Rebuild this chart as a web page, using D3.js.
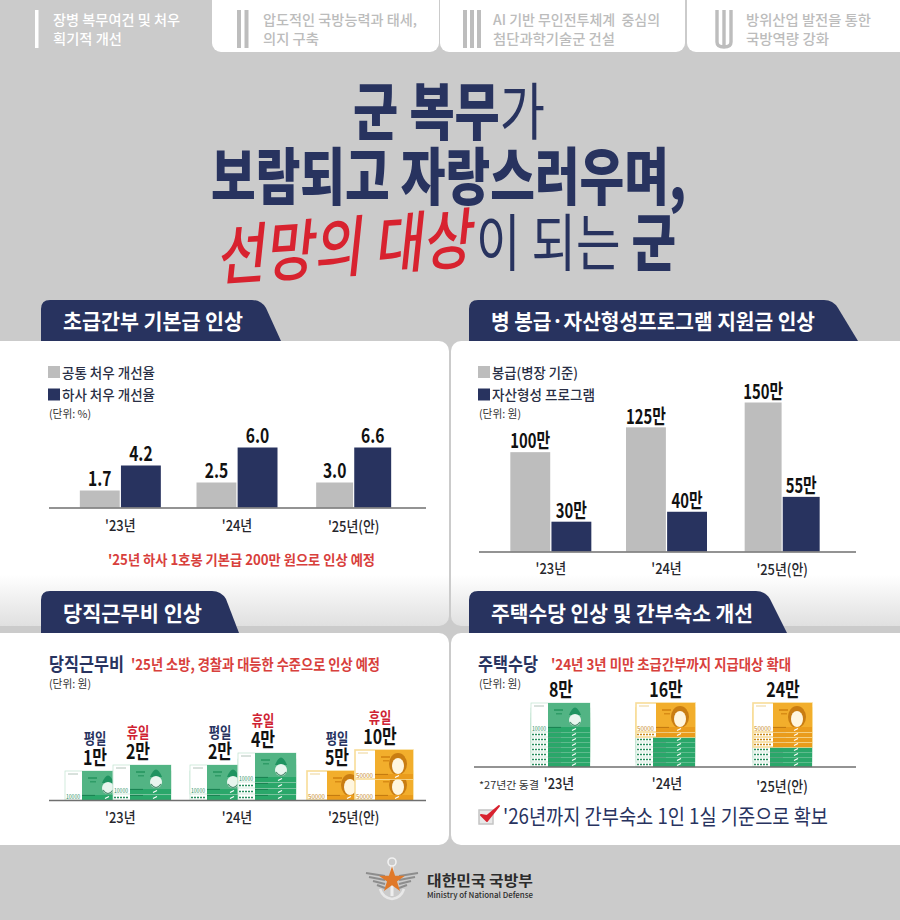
<!DOCTYPE html>
<html>
<head>
<meta charset="utf-8">
<script src="https://cdn.jsdelivr.net/npm/d3@7"></script>
<style>
html, body { margin: 0; padding: 0; background: #cbcbcb; }
svg { display: block; }
text { font-family: "Noto Sans CJK KR", "Noto Sans", sans-serif; }
</style>
</head>
<body>
<div id="chart"></div>
<script>
// data
var years = ["'23년", "'24년", "'25년(안)"];

// bar heights as drawn in the picture (the '25 bars of the first chart are drawn lower than their labels)
var commonRate = [1.7, 2.5, 2.5];
var sergeantRate = [4.2, 6.0, 6.0];
var commonRateLabels = ["1.7", "2.5", "3.0"];
var sergeantRateLabels = ["4.2", "6.0", "6.6"];

var payValues = [100, 125, 150];
var assetValues = [30, 40, 55];

// duty pay, number of notes of each kind
var weekdayTens = [1, 2, 0];
var weekdayFifties = [0, 0, 1];
var holidayTens = [2, 4, 0];
var holidayFifties = [0, 0, 2];
var weekdayLabels = ["1만", "2만", "5만"];
var holidayLabels = ["2만", "4만", "10만"];

// housing allowance, number of notes of each kind
var housingTens = [8, 6, 4];
var housingFifties = [0, 2, 4];
var housingLabels = ["8만", "16만", "24만"];

var tabs = [
  ["장병 복무여건 및 처우", "획기적 개선"],
  ["압도적인 국방능력과 태세,", "의지 구축"],
  ["AI 기반 무인전투체계  중심의", "첨단과학기술군 건설"],
  ["방위산업 발전을 통한", "국방역량 강화"]
];

var navy = "#28335f", gray = "#bdbdbd", red = "#d8403c", bg = "#cbcbcb";

var svg = d3.select("#chart").append("svg").attr("width", 900).attr("height", 920);
svg.append("rect").attr("width", 900).attr("height", 920).attr("fill", bg);

var defs = svg.append("defs");
var fade = defs.append("linearGradient").attr("id", "fade").attr("x1", 0).attr("x2", 0).attr("y1", 0).attr("y2", 1);
fade.append("stop").attr("offset", "0.82").attr("stop-color", "#ffffff");
fade.append("stop").attr("offset", "1").attr("stop-color", "#e0e0e0");

// y is the vertical middle of the text, sx narrows it, w forces a width
function txt(g, x, y, s, o) {
  o = o || {};
  var size = o.size || 14;
  var t = g.append("text")
    .attr("x", x)
    .attr("y", y + size * 0.36)
    .attr("font-size", size)
    .attr("font-weight", o.weight || 500)
    .attr("fill", o.fill || "#222")
    .attr("text-anchor", o.anchor || "start")
    .attr("xml:space", "preserve");
  if (Array.isArray(s)) {
    // parts of one line in different weights
    s.forEach(function(p) { t.append("tspan").attr("font-weight", p[1]).text(p[0]); });
  } else {
    t.text(s);
  }
  var w = o.w || (o.sx ? t.node().getComputedTextLength() * o.sx : 0);
  if (w) t.attr("textLength", w).attr("lengthAdjust", "spacingAndGlyphs");
  return t;
}

// tabs
svg.selectAll("rect.tab").data([[212, 227], [440, 245], [687, 230]]).enter().append("rect")
  .attr("class", "tab")
  .attr("x", function(d) { return d[0]; })
  .attr("y", -12)
  .attr("width", function(d) { return d[1]; })
  .attr("height", 64)
  .attr("rx", 9)
  .attr("fill", "#ffffff");

svg.append("rect").attr("x", 35).attr("y", 10).attr("width", 3.5).attr("height", 38).attr("fill", "#fff");
[237, 244.5, 463, 470, 477].forEach(function(x) {
  svg.append("rect").attr("x", x).attr("y", 10).attr("width", 4).attr("height", 38).attr("fill", gray);
});
svg.append("path")
  .attr("d", "M717,10V42Q717,47 724,47Q731,47 731,42V10M724,10V47")
  .attr("fill", "none").attr("stroke", gray).attr("stroke-width", 3.4);

var tabX = [53, 263, 493, 746];
var tabW = [[127, 69], [154, 56], [167, 122], [125, 83]];
tabs.forEach(function(lines, i) {
  lines.forEach(function(s, j) {
    txt(svg, tabX[i], j ? 39 : 20, s, { size: 14, weight: 500, fill: i ? "#bcbcbc" : "#fff", w: tabW[i][j] });
  });
});

// headline
txt(svg, 353, 113, [["군 복무", 900], ["가", 400]], { size: 62, fill: navy, w: 192 });
txt(svg, 211, 178, "보람되고 자랑스러우며,", { size: 62, weight: 900, fill: navy, w: 475 });
var slogan = svg.append("g").attr("transform", "rotate(-4 349 247) translate(349 247) skewX(-10) translate(-349 -247)");
txt(slogan, 219, 247, "선망의 대상", { size: 66, weight: 500, fill: "#d8222f", w: 256 });
txt(svg, 476, 244, [["이 되는 ", 400], ["군", 900]], { size: 62, fill: navy, w: 200 });

// panels
[[-12, 341, 461, 285, "url(#fade)"], [451, 341, 461, 285, "url(#fade)"],
 [-12, 633, 461, 212, "#fff"], [451, 633, 461, 212, "#fff"]].forEach(function(p) {
  svg.append("rect").attr("x", p[0]).attr("y", p[1]).attr("width", p[2]).attr("height", p[3])
    .attr("rx", 10).attr("fill", p[4]);
});

// section headers: x0, x at end of the top edge, x at the bottom, top y, bottom y
function header(x0, x1, x2, y0, y1, title, w) {
  var p = d3.path();
  p.moveTo(x0, y1);
  p.lineTo(x0, y0 + 9);
  p.quadraticCurveTo(x0, y0, x0 + 9, y0);
  p.lineTo(x1, y0);
  p.quadraticCurveTo(x1 + 9, y0, x1 + 14, y0 + 8);
  p.lineTo(x2, y1);
  p.closePath();
  svg.append("path").attr("d", p.toString()).attr("fill", navy);
  txt(svg, x0 + 22, (y0 + y1) / 2 + 1, title, { size: 21, weight: 700, fill: "#fff", w: w });
}
header(41, 252, 281, 300, 341, "초급간부 기본급 인상", 180);
header(469, 824, 858, 300, 341, "병 봉급·자산형성프로그램 지원금 인상", 324);
header(41, 212, 239, 591, 633, "당직근무비 인상", 139);
header(469, 756, 787, 591, 633, "주택수당 인상 및 간부숙소 개선", 262);

function baseline(x1, x2, y) {
  svg.append("line").attr("x1", x1).attr("x2", x2).attr("y1", y).attr("y2", y)
    .attr("stroke", "#6f6f6f").attr("stroke-width", 1.5);
}

// x gives the middle of a year
function yearLabels(x, y, yLast) {
  years.forEach(function(d, i) {
    txt(svg, x(d), i == 2 ? yLast : y, d, { size: 15, weight: 500, fill: "#26262c", anchor: "middle", sx: 0.86 });
  });
}

function legend(x, y, names, widths, unit) {
  [gray, navy].forEach(function(c, i) {
    svg.append("rect").attr("x", x).attr("y", y + i * 22.5).attr("width", 12).attr("height", 12).attr("fill", c);
    txt(svg, x + 14, y + 6.5 + i * 22.5, names[i], { size: 14, weight: 500, fill: "#2a2f45", w: widths[i] });
  });
  txt(svg, x + 1, y + 48, unit, { size: 11, weight: 400, fill: "#333", w: 42 });
}

// grouped bars, group widths differ a little from year to year as in the picture
function bars(x, y, a, b, aLabels, bLabels, groupW, barGap, labelSize, labelSx, labelOff) {
  var base = y.range()[0];
  years.forEach(function(yr, i) {
    var mid = x(yr) + x.bandwidth() / 2;
    var sub = d3.scaleBand().domain([0, 1])
      .range([mid - groupW[i] / 2, mid + groupW[i] / 2])
      .paddingInner(barGap);
    [[a, gray, aLabels], [b, navy, bLabels]].forEach(function(s, j) {
      svg.append("rect")
        .attr("x", sub(j)).attr("width", sub.bandwidth())
        .attr("y", y(s[0][i])).attr("height", base - y(s[0][i]))
        .attr("fill", s[1]);
      txt(svg, sub(j) + sub.bandwidth() / 2, y(s[0][i]) - labelOff, s[2][i],
        { size: labelSize, weight: 700, fill: "#111", anchor: "middle", sx: labelSx });
    });
  });
}

// first chart
legend(48, 366, ["공통 처우 개선율", "하사 처우 개선율"], [93, 93], "(단위: %)");
var x1 = d3.scaleBand().domain(years).range([62, 412]);
var y1 = d3.scaleLinear().domain([0, 6]).range([507.5, 447.5]);
bars(x1, y1, commonRate, sergeantRate, commonRateLabels, sergeantRateLabels, [81, 81, 75], 0.03, 20, 0.78, 12);
baseline(49, 426, 508);
yearLabels(function(d) { return x1(d) + x1.bandwidth() / 2; }, 526, 527);
txt(svg, 108, 560, "'25년 하사 1호봉 기본급 200만 원으로 인상 예정", { size: 14, weight: 700, fill: red, w: 267 });

// second chart
legend(478, 366, ["봉급(병장 기준)", "자산형성 프로그램"], [86, 103], "(단위: 원)");
var x2 = d3.scaleBand().domain(years).range([493, 840]);
var y2 = d3.scaleLinear().domain([0, 150]).range([551.5, 402.5]);
bars(x2, y2, payValues, assetValues, payValues.map(function(d) { return d + "만"; }),
  assetValues.map(function(d) { return d + "만"; }), [81, 81, 75], 0.03, 20, 0.74, 11);
baseline(479, 856, 552);
yearLabels(function(d) { return x2(d) + x2.bandwidth() / 2; }, 569, 570);

// a bank note with its top left corner at x,y; only a note with room shows its amount as text
function note(g, x, y, w, h, kind, showAmount) {
  var ten = kind == 10000;
  var left = ten ? 17 : 20;
  var n = g.append("g");
  n.append("rect").attr("x", x).attr("y", y).attr("width", w).attr("height", h)
    .attr("fill", "#fff").attr("stroke", ten ? "#bfe3cf" : "#f8dc98").attr("stroke-width", ten ? 0.7 : 1.6);
  n.append("rect").attr("x", x + left).attr("y", y).attr("width", w - left).attr("height", h)
    .attr("fill", ten ? "#52b484" : "#f2ae2c");
  n.append("line").attr("x1", x + 3).attr("x2", x + 13).attr("y1", y + 3).attr("y2", y + 3)
    .attr("stroke", ten ? "#9fb5a8" : "#e9c878").attr("stroke-width", 0.8);
  // small writing on the note
  n.append("rect").attr("x", x + left + 6).attr("y", y + 6).attr("width", 9).attr("height", 2)
    .attr("fill", ten ? "#2f9c67" : "#d98c15");
  n.append("rect").attr("x", x + left + 8).attr("y", y + 10).attr("width", 6).attr("height", 1.5)
    .attr("fill", ten ? "#2f9c67" : "#d98c15");
  // portrait
  var cx = x + w - 15;
  if (ten) {
    n.append("path").attr("d", "M" + (cx - 6) + "," + (y + 12) + "Q" + cx + "," + (y - 3) + " " + (cx + 6) + "," + (y + 12) + "Z")
      .attr("fill", "#1f9360");
    n.append("ellipse").attr("cx", cx).attr("cy", y + 17).attr("rx", 6).attr("ry", 6).attr("fill", "#e8f5ee");
    n.append("path").attr("d", "M" + (cx - 5) + "," + (y + 19) + "Q" + cx + "," + (y + 26) + " " + (cx + 5) + "," + (y + 19))
      .attr("fill", "none").attr("stroke", "#4d8f70").attr("stroke-width", 1.2);
  } else {
    n.append("ellipse").attr("cx", cx).attr("cy", y + 14).attr("rx", 9).attr("ry", 11).attr("fill", "#c97d12");
    n.append("ellipse").attr("cx", cx).attr("cy", y + 16).attr("rx", 6).attr("ry", 8).attr("fill", "#fff6df");
  }
  // robe and left hand writing at the bottom of the note
  n.append("rect").attr("x", x + left).attr("y", y + h - 5).attr("width", w - left).attr("height", 5)
    .attr("fill", ten ? "#2aa76a" : "#ea9c1c");
  n.append("line").attr("x1", x + left).attr("x2", x + left + 13).attr("y1", y + h - 4.6).attr("y2", y + h - 4.6)
    .attr("stroke", ten ? "#14764a" : "#b56f0c").attr("stroke-width", 0.8);
  n.append("path").attr("d", "M" + (cx - 3) + "," + (y + h - 1.5) + "L" + (cx + 1) + "," + (y + h - 3.5))
    .attr("stroke", "#fff").attr("stroke-width", 1.2);
  if (showAmount) {
    txt(n, x + 1, y + h - 4, String(kind), { size: 7, weight: 400, fill: ten ? "#2a8f5f" : "#c98a1d", w: left - 3 });
  } else {
    n.append("line").attr("x1", x + 1).attr("x2", x + left - 1).attr("y1", y + h - 2.5).attr("y2", y + h - 2.5)
      .attr("stroke", ten ? "#2a8f5f" : "#c98a1d").attr("stroke-width", 1.6).attr("stroke-dasharray", "2 1");
  }
}

// notes are laid from the bottom up, the scale gives how far each one sticks out
function stack(g, x, base, w, h, tens, fifties, tenRise, fiftyRise) {
  var y = base - h;
  var rise = 0;
  var total = tens + fifties;
  d3.range(tens).forEach(function(i) {
    rise = tenRise(1);
    note(g, x, y, w, h, 10000, i == total - 1);
    y -= rise;
  });
  d3.range(fifties).forEach(function(i) {
    rise = fiftyRise(1);
    note(g, x, y, w, h, 50000, rise > 10 || tens + i == total - 1);
    y -= rise;
  });
  return y + rise;
}

// third chart
txt(svg, 49, 665, "당직근무비", { size: 18, weight: 700, fill: navy, w: 75 });
txt(svg, 131, 665, "'25년 소방, 경찰과 대등한 수준으로 인상 예정", { size: 15, weight: 700, fill: red, w: 249 });
txt(svg, 49, 684, "(단위: 원)", { size: 11, weight: 400, fill: "#333", w: 42 });

var dutyX = d3.scaleOrdinal().domain(years).range([65, 190, 307]);
var dutyTen = d3.scaleLinear().domain([0, 1]).range([0, 6]);
var dutyFifty = d3.scaleLinear().domain([0, 1]).range([0, 21]);
var dutyG = svg.append("g");
var dutyBase = 800, noteW = 58, noteH = 29;

years.forEach(function(d, i) {
  var x = dutyX(d);
  var top1 = stack(dutyG, x, dutyBase, noteW, noteH, weekdayTens[i], weekdayFifties[i], dutyTen, dutyFifty);
  var top2 = stack(dutyG, x + 48, dutyBase, noteW, noteH, holidayTens[i], holidayFifties[i], dutyTen, dutyFifty);
  txt(svg, x + 30, top1 - 13, weekdayLabels[i], { size: 20, weight: 700, fill: "#111", anchor: "middle", sx: 0.8 });
  txt(svg, x + 30, top1 - 32, "평일", { size: 15, weight: 700, fill: navy, anchor: "middle", sx: 0.82 });
  txt(svg, x + 73, top2 - 13, holidayLabels[i], { size: 20, weight: 700, fill: "#111", anchor: "middle", sx: 0.8 });
  txt(svg, x + 73, top2 - 32, "휴일", { size: 15, weight: 700, fill: "#cf2233", anchor: "middle", sx: 0.82 });
});
baseline(49, 426, 800.5);
yearLabels(function(d) { return x1(d) + x1.bandwidth() / 2; }, 818, 818);

// fourth chart
txt(svg, 478, 665, "주택수당", { size: 18, weight: 700, fill: navy, w: 60 });
txt(svg, 551, 665, "'24년 3년 미만 초급간부까지 지급대상 확대", { size: 15, weight: 700, fill: red, w: 240 });
txt(svg, 479, 684, "(단위: 원)", { size: 11, weight: 400, fill: "#333", w: 42 });

var houseX = d3.scaleOrdinal().domain(years).range([531, 636, 753]);
var houseRise = d3.scaleLinear().domain([0, 1]).range([0, 5]);
var houseG = svg.append("g");
years.forEach(function(d, i) {
  var top = stack(houseG, houseX(d), 767, 59, noteH, housingTens[i], housingFifties[i], houseRise, houseRise);
  txt(svg, houseX(d) + 30, top - 13, housingLabels[i], { size: 20, weight: 700, fill: "#111", anchor: "middle", sx: 0.8 });
});
baseline(474, 856, 767);

var xHouse = d3.scaleOrdinal().domain(years).range([559, 667, 782]);
yearLabels(xHouse, 784, 787);
txt(svg, 479, 785, "*27년간 동결", { size: 10, weight: 400, fill: "#333", w: 60 });

// check mark line
svg.append("rect").attr("x", 479).attr("y", 810).attr("width", 14).attr("height", 14)
  .attr("fill", "#e9e9e9").attr("stroke", "#c4c4c4").attr("stroke-width", 1.5);
svg.append("path").attr("d", "M481,815L487,821L499,806L487,816Z")
  .attr("fill", "#d8222f").attr("stroke", "#d8222f").attr("stroke-width", 2).attr("stroke-linejoin", "round");
txt(svg, 503, 816, "'26년까지 간부숙소 1인 1실 기준으로 확보", { size: 21, weight: 400, fill: navy, w: 325 });

// footer emblem
var em = svg.append("g").attr("transform", "translate(392,880)");
[-1, 1].forEach(function(s) {
  [[-7, 26], [-3, 23], [1, 19], [5, 15]].forEach(function(l) {
    em.append("line").attr("x1", s * 7).attr("x2", s * l[1]).attr("y1", l[0] + 3).attr("y2", l[0])
      .attr("stroke", "#8d8d8d").attr("stroke-width", 2);
  });
});
em.append("circle").attr("cx", 0).attr("cy", -18).attr("r", 4).attr("fill", "none").attr("stroke", "#f1f1f1").attr("stroke-width", 1.6);
em.append("line").attr("y1", -14).attr("y2", 16).attr("stroke", "#eeeeee").attr("stroke-width", 3);
em.append("path").attr("d", "M-12,9Q-9,18 0,19Q9,18 12,9").attr("fill", "none").attr("stroke", "#e8e8e8").attr("stroke-width", 2.5);
em.append("path")
  .attr("d", d3.symbol().type(d3.symbolStar).size(210)())
  .attr("fill", "#e0792a");
txt(svg, 427, 881, "대한민국 국방부", { size: 15, weight: 700, fill: "#2b2b2b", w: 106 });
txt(svg, 427, 895, "Ministry of National Defense", { size: 8, weight: 500, fill: "#2b2b2b", w: 106 });
</script>
</body>
</html>
